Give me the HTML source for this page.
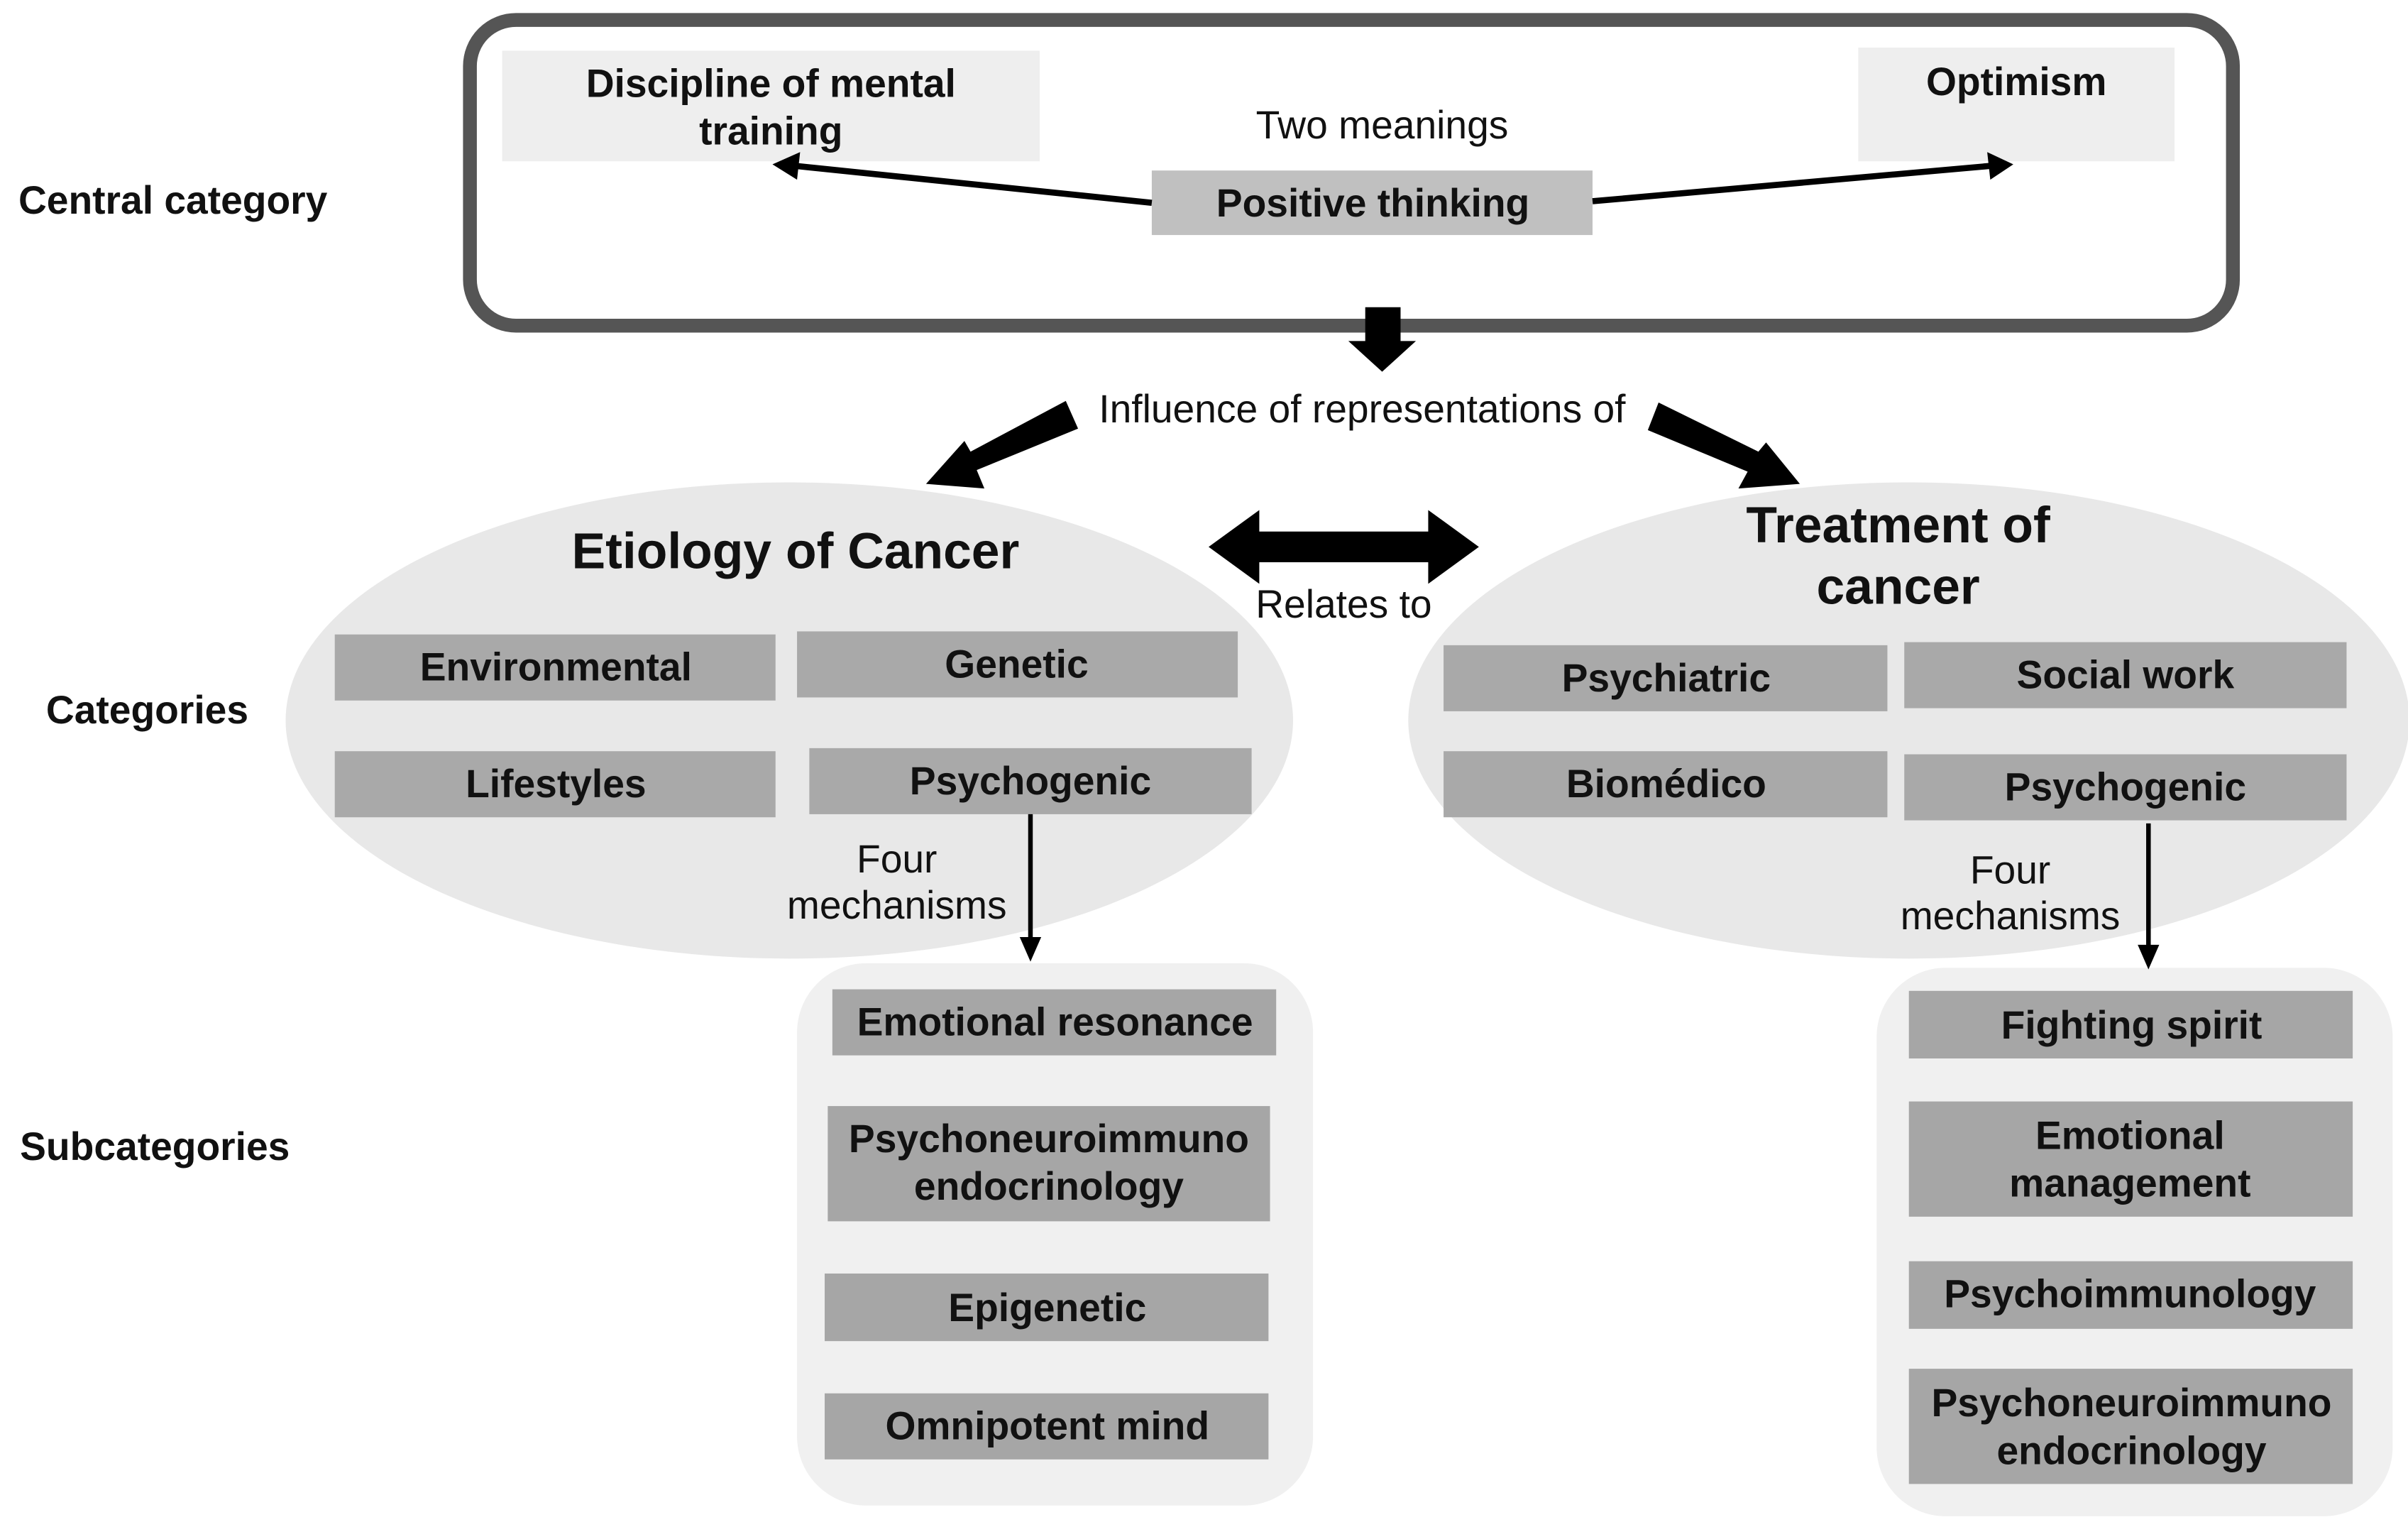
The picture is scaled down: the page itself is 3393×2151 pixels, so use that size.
<!DOCTYPE html>
<html><head><meta charset="utf-8"><style>
html,body{margin:0;padding:0;background:#fff;}
svg{display:block;}
text{font-family:"Liberation Sans",Arial,sans-serif;fill:#111;}
.b{font-weight:bold;font-size:25.5px;}
.n{font-size:25.5px;}
</style></head><body>
<svg width="3393" height="2151" viewBox="0 0 1568 994" preserveAspectRatio="none" xmlns="http://www.w3.org/2000/svg">
<rect width="1568" height="994" fill="#fff"/>
<rect x="306" y="13" width="1148" height="199" rx="30" fill="none" stroke="#555" stroke-width="9"/>
<rect x="327" y="33" width="350" height="72" fill="#eeeeee"/>
<rect x="1210" y="31" width="206" height="74" fill="#eeeeee"/>
<rect x="750" y="111" width="287" height="42" fill="#c0c0c0"/>
<text class="b" x="502" y="63" text-anchor="middle">Discipline of mental</text>
<text class="b" x="502" y="94" text-anchor="middle">training</text>
<text class="b" x="1313" y="62" text-anchor="middle">Optimism</text>
<text class="b" x="894" y="141" text-anchor="middle">Positive thinking</text>
<text class="n" x="900" y="90" text-anchor="middle">Two meanings</text>
<line x1="750" y1="132" x2="518" y2="108" stroke="#000" stroke-width="4"/>
<polygon points="503,107 521,99 519,117" fill="#000"/>
<line x1="1037" y1="131" x2="1296" y2="108" stroke="#000" stroke-width="4"/>
<polygon points="1311,107 1294,99 1296,117" fill="#000"/>
<polygon points="889,200 912,200 912,222 922,222 900,242 878,222 889,222" fill="#000"/>
<text class="n" x="887" y="275" text-anchor="middle">Influence of representations of</text>
<polygon points="694,261 702,279 636,306 641,318 603,315 628,287 632,294" fill="#000"/>
<polygon points="1080,262 1073,280 1138,307 1132,318 1172,315 1150,288 1145,294" fill="#000"/>
<ellipse cx="514" cy="469" rx="328" ry="155" fill="#e8e8e8"/>
<ellipse cx="1243" cy="469" rx="326" ry="155" fill="#e8e8e8"/>
<polygon points="787,356 820,332 820,346 930,346 930,332 963,356 930,380 930,366 820,366 820,380" fill="#000"/>
<text class="n" x="875" y="402" text-anchor="middle">Relates to</text>
<text x="518" y="370" text-anchor="middle" style="font-weight:bold;font-size:33px">Etiology of Cancer</text>
<text x="1236" y="353" text-anchor="middle" style="font-weight:bold;font-size:33px">Treatment of</text>
<text x="1236" y="393" text-anchor="middle" style="font-weight:bold;font-size:33px">cancer</text>
<g fill="#a9a9a9">
<rect x="218" y="413" width="287" height="43"/>
<rect x="519" y="411" width="287" height="43"/>
<rect x="218" y="489" width="287" height="43"/>
<rect x="527" y="487" width="288" height="43"/>
<rect x="940" y="420" width="289" height="43"/>
<rect x="1240" y="418" width="288" height="43"/>
<rect x="940" y="489" width="289" height="43"/>
<rect x="1240" y="491" width="288" height="43"/>
</g>
<text class="b" x="362" y="443" text-anchor="middle">Environmental</text>
<text class="b" x="662" y="441" text-anchor="middle">Genetic</text>
<text class="b" x="362" y="519" text-anchor="middle">Lifestyles</text>
<text class="b" x="671" y="517" text-anchor="middle">Psychogenic</text>
<text class="b" x="1085" y="450" text-anchor="middle">Psychiatric</text>
<text class="b" x="1384" y="448" text-anchor="middle">Social work</text>
<text class="b" x="1085" y="519" text-anchor="middle">Biomédico</text>
<text class="b" x="1384" y="521" text-anchor="middle">Psychogenic</text>
<rect x="519" y="627" width="336" height="353" rx="45" fill="#f0f0f0"/>
<rect x="1222" y="630" width="336" height="357" rx="45" fill="#f0f0f0"/>
<line x1="671" y1="530" x2="671" y2="612" stroke="#000" stroke-width="3"/>
<polygon points="664,610 678,610 671,626" fill="#000"/>
<line x1="1399" y1="536" x2="1399" y2="617" stroke="#000" stroke-width="3"/>
<polygon points="1392,615 1406,615 1399,631" fill="#000"/>
<text class="n" x="584" y="568" text-anchor="middle">Four</text>
<text class="n" x="584" y="598" text-anchor="middle">mechanisms</text>
<text class="n" x="1309" y="575" text-anchor="middle">Four</text>
<text class="n" x="1309" y="605" text-anchor="middle">mechanisms</text>
<g fill="#a6a6a6">
<rect x="542" y="644" width="289" height="43"/>
<rect x="539" y="720" width="288" height="75"/>
<rect x="537" y="829" width="289" height="44"/>
<rect x="537" y="907" width="289" height="43"/>
<rect x="1243" y="645" width="289" height="44"/>
<rect x="1243" y="717" width="289" height="75"/>
<rect x="1243" y="821" width="289" height="44"/>
<rect x="1243" y="891" width="289" height="75"/>
</g>
<text class="b" x="687" y="674" text-anchor="middle">Emotional resonance</text>
<text class="b" x="683" y="750" text-anchor="middle">Psychoneuroimmuno</text>
<text class="b" x="683" y="781" text-anchor="middle">endocrinology</text>
<text class="b" x="682" y="860" text-anchor="middle">Epigenetic</text>
<text class="b" x="682" y="937" text-anchor="middle">Omnipotent mind</text>
<text class="b" x="1388" y="676" text-anchor="middle">Fighting spirit</text>
<text class="b" x="1387" y="748" text-anchor="middle">Emotional</text>
<text class="b" x="1387" y="779" text-anchor="middle">management</text>
<text class="b" x="1387" y="851" text-anchor="middle">Psychoimmunology</text>
<text class="b" x="1388" y="922" text-anchor="middle">Psychoneuroimmuno</text>
<text class="b" x="1388" y="953" text-anchor="middle">endocrinology</text>
<text class="b" x="12" y="139">Central category</text>
<text class="b" x="30" y="471">Categories</text>
<text class="b" x="13" y="755">Subcategories</text>
</svg>
</body></html>
